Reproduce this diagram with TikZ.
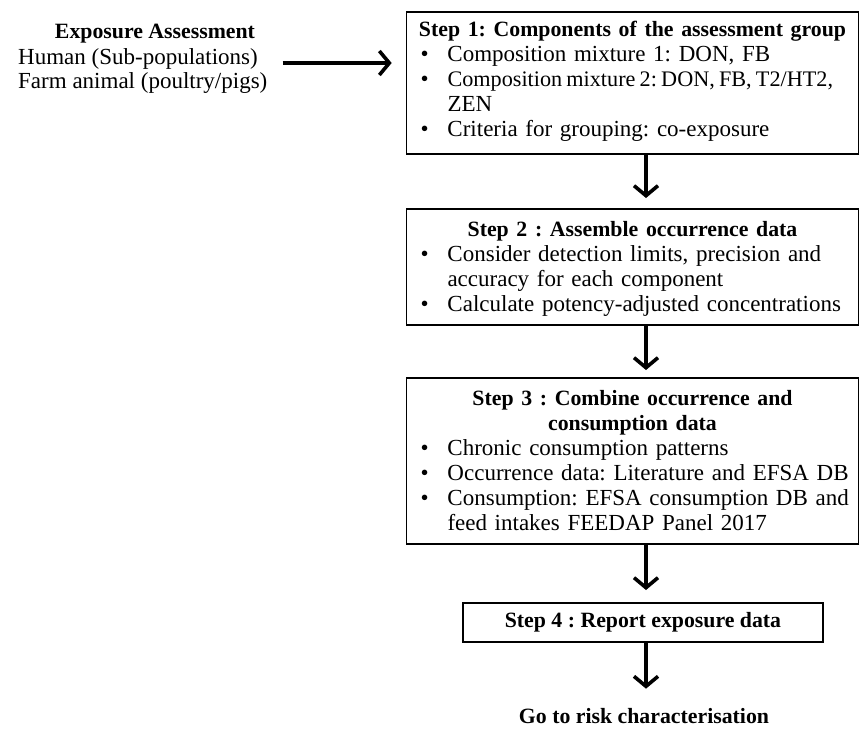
\documentclass[tikz,border=0pt]{standalone}
\usepackage{fontspec}
\setmainfont{Liberation Serif}
\usetikzlibrary{arrows.meta}
\frenchspacing
\newcommand{\bfsz}{\fontsize{21.8}{25}\selectfont\bfseries}
\newcommand{\bitem}[1]{\par\noindent\hangindent=35pt\hangafter=1\makebox[35pt][l]{\hspace{8pt}•}#1\par}
\newcommand{\steptitle}[1]{\par\noindent\makebox[\linewidth][c]{\bfsz #1}\par}
\newcommand{\tightline}[1]{\mbox{\fontsize{22.2}{25}\selectfont\spaceskip=0.19em #1}}
\newcommand{\bottompad}[1]{\par\kern#1\hrule height0pt width0pt\relax}
\tikzset{
  stepbox/.style={draw, line width=1.6pt, text width=440pt, inner xsep=6pt, inner ysep=0pt, anchor=north, align=left, font=\fontsize{23}{25}\selectfont},
  plain/.style={inner sep=0pt, font=\fontsize{23}{25}\selectfont},
  arr/.style={line width=3.6pt, -{Straight Barb[length=10pt,width=24pt]}}
}
\begin{document}
\begin{tikzpicture}[x=1pt,y=-1pt]
\useasboundingbox (0,0) rectangle (860,729);
\node[plain, anchor=base, font=\bfsz] (t0) at (155,38) {Exposure Assessment};
\node[plain, anchor=base west] (t1) at (18,64) {Human (Sub-populations)};
\node[plain, anchor=base west] (t2) at (18,88) {Farm animal (poultry/pigs)};
\node[stepbox, minimum height=142pt] (b1) at (632.5,11) {\steptitle{Step 1: Components of the assessment group}
\bitem{Composition mixture 1: DON, FB}
\bitem{\tightline{Composition mixture 2: DON, FB, T2/HT2,}\newline ZEN}
\bitem{Criteria for grouping: co-exposure}\bottompad{12pt}};
\node[stepbox, minimum height=116pt] (b2) at (632.5,208) {\steptitle{Step 2 : Assemble occurrence data}
\bitem{\mbox{Consider detection limits, precision and}\newline accuracy for each component}
\bitem{\mbox{Calculate potency-adjusted concentrations}}\bottompad{6pt}};
\node[stepbox, minimum height=166pt] (b3) at (632.5,377) {\steptitle{Step 3 : Combine occurrence and}
\steptitle{consumption data}
\bitem{Chronic consumption patterns}
\bitem{Occurrence data: Literature and EFSA DB}
\bitem{\mbox{Consumption: EFSA consumption DB and}\newline feed intakes FEEDAP Panel 2017}\bottompad{10pt}};
\node[draw, line width=1.6pt, anchor=north, minimum width=360pt, minimum height=39pt, inner sep=0pt, font=\bfsz] (b4) at (643,602) {Step 4 : Report exposure data};
\node[plain, anchor=base, font=\bfsz] (go) at (644,723) {Go to risk characterisation};
\coordinate (ax) at (646,0);
\coordinate (hs) at (0,63);
\draw[arr, shorten <=15pt, shorten >=14pt] (t2.east |- hs) -- (b1.west |- hs);
\draw[arr, shorten >=10pt] (b1.south -| ax) -- (b2.north -| ax);
\draw[arr, shorten >=7pt] (b2.south -| ax) -- (b3.north -| ax);
\draw[arr, shorten >=12pt] (b3.south -| ax) -- (b4.north -| ax);
\draw[arr, shorten >=19pt] (b4.south -| ax) -- (go.north -| ax);
\end{tikzpicture}
\end{document}
